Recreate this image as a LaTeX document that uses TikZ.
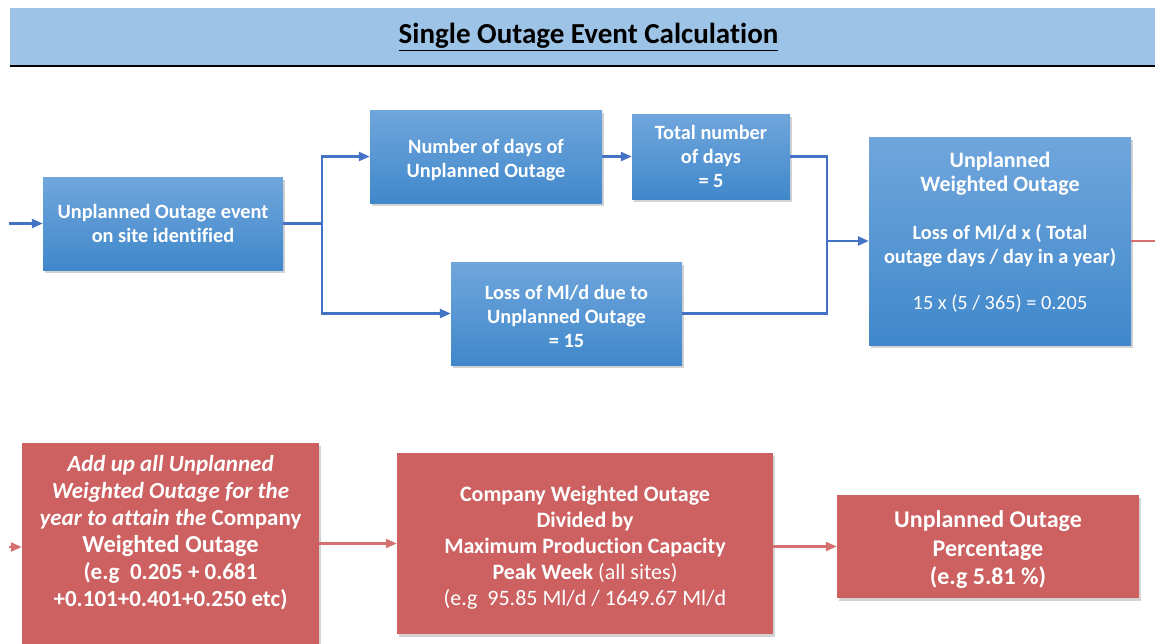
\documentclass[tikz,border=0pt]{standalone}
\usepackage{fontspec}
\setmainfont{Carlito}[Ligatures=NoCommon]
\usetikzlibrary{arrows.meta, shadows}

\definecolor{barfill}{RGB}{157,195,230}
\definecolor{bluetop}{RGB}{112,166,220}
\definecolor{bluebot}{RGB}{64,136,203}
\definecolor{blueline}{RGB}{68,114,196}
\definecolor{redfill}{RGB}{205,96,96}
\definecolor{redline}{RGB}{212,112,112}

\newcommand{\bigtxt}{\fontsize{22}{26}\selectfont}
\newcommand{\smalltxt}{\fontsize{20.3}{24}\selectfont}

\tikzset{
  bluebox/.style={rectangle, top color=bluetop, bottom color=bluebot, text=white, align=center,
    font=\bfseries\smalltxt,
    drop shadow={shadow xshift=2pt, shadow yshift=-3pt, opacity=0.35}},
  redbox/.style={rectangle, fill=redfill, text=white, align=center,
    drop shadow={shadow xshift=2pt, shadow yshift=-3pt, opacity=0.35}},
  blueflow/.style={draw=blueline, line width=2.3pt},
  redflow/.style={draw=redline, line width=2.2pt},
  >={Triangle[length=11pt,width=9pt]}
}

\begin{document}
\begin{tikzpicture}[x=1pt, y=-1pt]
    \useasboundingbox (0,0) rectangle (1155,643);

    \node (title) [rectangle, fill=barfill, minimum width=1157, minimum height=58,
        font=\bfseries\fontsize{29}{32}\selectfont] at (588.5,37) {\underline{Single Outage Event Calculation}};
    \draw[line width=2.5pt] (title.south west) -- (title.south east);

    \node (event) [bluebox, minimum width=240, minimum height=93] at (163,223.5)
        {Unplanned Outage event\\on site identified};
    \node (days) [bluebox, minimum width=232, minimum height=93] at (486,156.5)
        {\rule{0pt}{22pt}Number of days of\\Unplanned Outage};
    \node (total) [bluebox, minimum width=158, minimum height=85] at (711,156.5)
        {Total number\\of days\\= 5};
    \node (loss) [bluebox, minimum width=231, minimum height=103] at (566.5,313.5)
        {\rule{0pt}{20pt}Loss of Ml/d due to\\Unplanned Outage\\= 15};
    \node (weighted) [bluebox, minimum width=262, minimum height=208] at (1000,241)
        {\bigtxt Unplanned\\\bigtxt Weighted Outage\\[24pt]
         \smalltxt Loss of Ml/d x ( Total\\\smalltxt outage days / day in a year)\\[22pt]
         \smalltxt\mdseries 15 x (5 / 365) = 0.205\rule[-20pt]{0pt}{0pt}};

    \coordinate (start) at (9,223.5);
    \coordinate (join) at (827,241);
    \coordinate (redout) at (1160,241);

    \draw[blueflow,->] (start) -- (event.west);
    \draw[blueflow,->] (event.east) -- ++(39,0) |- (days.west);
    \draw[blueflow,->] (event.east) -- ++(39,0) |- (loss.west);
    \draw[blueflow,->] (days.east) -- (total.west);
    \draw[blueflow] (total.east) -| (join);
    \draw[blueflow] (loss.east) -| (join);
    \draw[blueflow,->] (join) -- (weighted.west);
    \draw[redflow] (weighted.east) -- (redout);

    \node (addup) [redbox, minimum width=297, anchor=north, inner ysep=12pt,
        font=\bfseries\fontsize{23}{27}\selectfont] at (170.5,443)
        {\itshape Add up all Unplanned\\\itshape Weighted Outage for the\\
         \itshape year to attain the \upshape Company\\
         \fontsize{24.4}{27}\selectfont Weighted Outage\\
         \fontsize{23}{27}\selectfont (e.g\ \ 0.205 + 0.681\\+0.101+0.401+0.250 etc)\rule[-70pt]{0pt}{0pt}};
    \node (divide) [redbox, minimum width=376, minimum height=181,
        font=\bfseries\fontsize{22}{26}\selectfont] at (585,543.5)
        {\rule{0pt}{23pt}Company Weighted Outage\\Divided by\\Maximum Production Capacity\\
         Peak Week \mdseries (all sites)\\\mdseries (e.g\ \ 95.85 Ml/d / 1649.67 Ml/d};
    \node (pct) [redbox, minimum width=302, minimum height=103,
        font=\bfseries\fontsize{24}{28.5}\selectfont] at (988,546.5)
        {\rule{0pt}{24pt}Unplanned Outage\\Percentage\\(e.g 5.81 \%)};

    \coordinate (redin) at (9,547);
    \draw[redflow,->] (redin) -- (redin -| addup.west);
    \draw[redflow,->] (addup.east |- divide.west) -- (divide.west);
    \draw[redflow,->] (divide.east |- pct.west) -- (pct.west);
\end{tikzpicture}
\end{document}
